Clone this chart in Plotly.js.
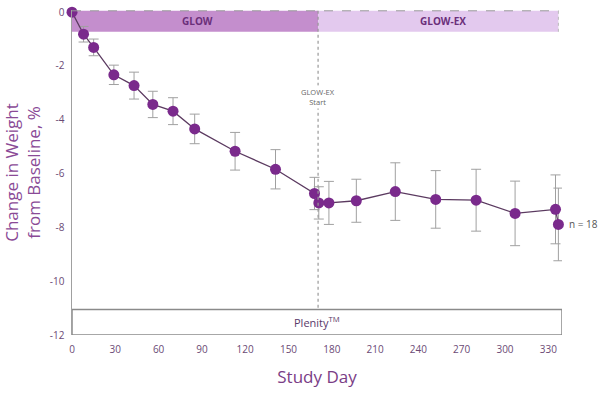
<!DOCTYPE html>
<html>
<head>
<meta charset="utf-8">
<script src="https://cdn.plot.ly/plotly-3.0.1.min.js"></script>
<style>html,body{margin:0;padding:0;background:#fff;}#chart{width:607px;height:393px;}</style>
</head>
<body>
<div id="chart"></div>
<script>
// Study day of each visit
const studyDays = [0, 8, 15, 29, 43, 56, 70, 85, 113, 141, 168, 171, 178, 197, 224, 252, 280, 307, 335, 337];
// Mean change in weight from baseline, %
const weightChange = [0, -0.82, -1.31, -2.33, -2.73, -3.43, -3.68, -4.34, -5.17, -5.84, -6.74, -7.09, -7.09, -7.01, -6.67, -6.96, -6.99, -7.48, -7.33, -7.89];
// Error bar half-widths
const errorValues = [0, 0.29, 0.31, 0.36, 0.5, 0.49, 0.5, 0.55, 0.7, 0.73, 0.6, 0.6, 0.8, 0.8, 1.07, 1.07, 1.15, 1.2, 1.28, 1.35];
const xTicks = [0, 30, 60, 90, 120, 150, 180, 210, 240, 270, 300, 330];
const yTicks = [-12, -10, -8, -6, -4, -2, 0];
const phaseLabels = ['GLOW', 'GLOW-EX'];
const extensionStartDay = 170.5;
const studyEndDay = 337;

const FONT = 'Open Sans, sans-serif';
const purple = '#7a2a8c';
const textPurple = '#6b2f7a';

const trace = {
  x: studyDays, y: weightChange, type: 'scatter', mode: 'lines+markers',
  line: {color: '#5b3a60', width: 1.3},
  marker: {color: purple, size: 11},
  error_y: {type: 'data', array: errorValues, visible: true, color: '#a0a0a0', thickness: 1, width: 5},
  cliponaxis: false, hoverinfo: 'skip'
};

const layout = {
  width: 607, height: 393,
  margin: {l: 72, r: 45, t: 10, b: 58},
  paper_bgcolor: '#fff', plot_bgcolor: '#fff',
  showlegend: false,
  font: {family: FONT, color: '#6b4a75'},
  xaxis: {
    range: [0, 339.5], tickvals: xTicks, ticktext: xTicks.map(String),
    showgrid: false, zeroline: false, showline: false, ticks: '',
    ticklabelstandoff: 7,
    tickfont: {size: 10, color: '#6b4a75'},
    title: {text: 'Study Day', font: {size: 17, color: '#7a3d86', family: FONT}, standoff: 16}
  },
  yaxis: {
    range: [-12, 0.08], tickvals: yTicks, ticktext: yTicks.map(String),
    showgrid: false, zeroline: false, showline: true, linecolor: '#a0a0a0', linewidth: 1.5,
    ticks: '', ticklabelstandoff: 4, tickfont: {size: 10, color: '#6b4a75'},
    title: {text: 'Change in Weight<br>from Baseline, %', font: {size: 17, color: '#8a4a96', family: FONT}, standoff: 9}
  },
  shapes: [
    {type: 'rect', xref: 'x', yref: 'y', x0: 0, x1: extensionStartDay, y0: -0.73, y1: 0.05, fillcolor: '#c48ecd', line: {width: 0}, layer: 'below'},
    {type: 'rect', xref: 'x', yref: 'y', x0: extensionStartDay, x1: studyEndDay, y0: -0.73, y1: 0.05, fillcolor: '#e3c9ee', line: {width: 0}, layer: 'below'},
    {type: 'line', xref: 'x', yref: 'y', x0: 0, x1: studyEndDay, y0: 0.05, y1: 0.05, line: {color: '#999', width: 1, dash: 'dash'}},
    {type: 'line', xref: 'x', yref: 'y', x0: studyEndDay, x1: studyEndDay, y0: 0.05, y1: -0.73, line: {color: '#bbb', width: 1, dash: 'dot'}},
    {type: 'line', xref: 'x', yref: 'y', x0: extensionStartDay, x1: extensionStartDay, y0: 0.05, y1: -11.05, line: {color: '#999', width: 1.2, dash: 'dot'}},
    {type: 'rect', xref: 'x', yref: 'y', x0: 0, x1: 339.5, y0: -12, y1: -11.05, fillcolor: '#fff', line: {color: '#8a8a8a', width: 1.5}}
  ],
  annotations: [
    {x: 87, y: -0.34, xref: 'x', yref: 'y', text: '<b>' + phaseLabels[0] + '</b>', showarrow: false, font: {size: 10, color: textPurple, family: FONT}},
    {x: 257, y: -0.34, xref: 'x', yref: 'y', text: '<b>' + phaseLabels[1] + '</b>', showarrow: false, font: {size: 10, color: textPurple, family: FONT}},
    {x: extensionStartDay, y: -3.15, xref: 'x', yref: 'y', text: 'GLOW-EX<br>Start', showarrow: false, font: {size: 7.5, color: '#666', family: FONT}, bgcolor: '#fff'},
    {x: 170, y: -11.53, xref: 'x', yref: 'y', text: 'Plenity<sup>TM</sup>', showarrow: false, font: {size: 11, color: '#5a3a6a', family: FONT}},
    {x: 1.01, y: -7.89, xref: 'paper', yref: 'y', xanchor: 'left', text: 'n = 18', showarrow: false, font: {size: 10, color: '#555', family: FONT}}
  ]
};

Plotly.newPlot('chart', [trace], layout, {staticPlot: true, displayModeBar: false});
</script>
</body>
</html>
